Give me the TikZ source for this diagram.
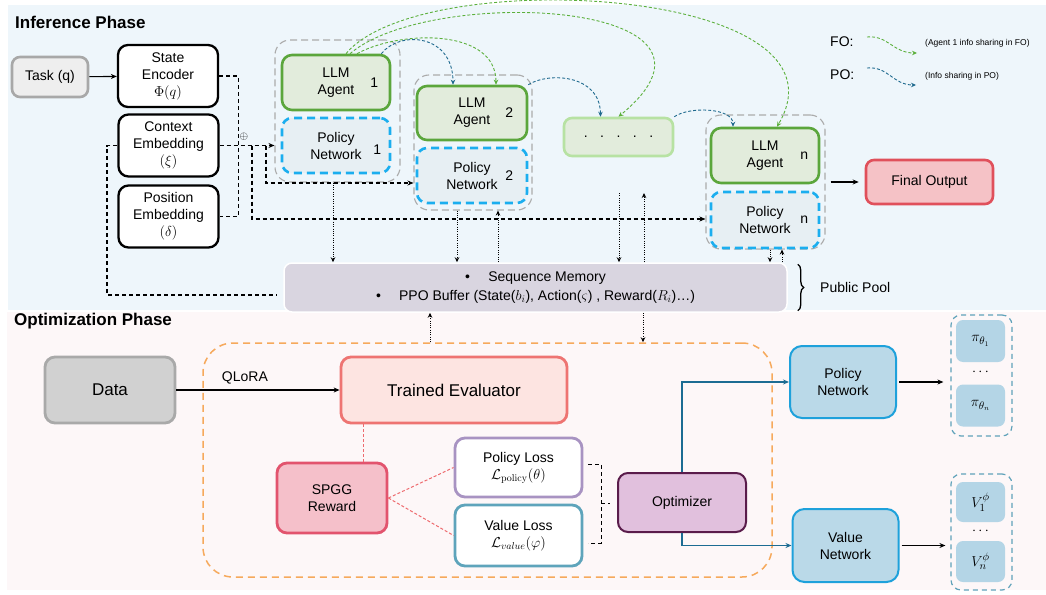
\documentclass[tikz,border=0pt]{standalone}
\usepackage[no-math]{fontspec}
\setmainfont{Liberation Sans}
\usetikzlibrary{arrows.meta,decorations.pathreplacing,calc}

\definecolor{infbg}{HTML}{EEF6FB}
\definecolor{optbg}{HTML}{FDF7F8}
\definecolor{taskfill}{HTML}{EEEEEE}
\definecolor{taskline}{HTML}{A8A8A8}
\definecolor{grpline}{HTML}{ABABAB}
\definecolor{agfill}{HTML}{E2ECDC}
\definecolor{agline}{HTML}{5BA63C}
\definecolor{dotline}{HTML}{B7E2A3}
\definecolor{pnfill}{HTML}{E7EFF3}
\definecolor{pnline}{HTML}{1BAEEF}
\definecolor{outfill}{HTML}{F5C2C6}
\definecolor{outln}{HTML}{E0505B}
\definecolor{poolfill}{HTML}{D9D5E0}
\definecolor{focurve}{HTML}{5CB03C}
\definecolor{pocurve}{HTML}{1F6A8E}
\definecolor{datafill}{HTML}{D1D1D1}
\definecolor{dataline}{HTML}{A9A9A9}
\definecolor{evfill}{HTML}{FDE4E1}
\definecolor{evline}{HTML}{EE7472}
\definecolor{rwfill}{HTML}{F5C0CA}
\definecolor{rwline}{HTML}{E2546E}
\definecolor{plline}{HTML}{A893C2}
\definecolor{vlline}{HTML}{5EA4BB}
\definecolor{optfill}{HTML}{E1C0DD}
\definecolor{optline}{HTML}{5A1C4B}
\definecolor{netfill}{HTML}{BAD9E8}
\definecolor{netline}{HTML}{1EA1DB}
\definecolor{cellfill}{HTML}{B4D5E6}
\definecolor{cellgrp}{HTML}{60A2BA}
\definecolor{flow}{HTML}{1C6C93}
\definecolor{ogrp}{HTML}{F6A95C}
\definecolor{lossdash}{HTML}{EE6B6F}

\begin{document}
\begin{tikzpicture}[x=1pt,y=-1pt,
  every node/.style={font=\fontsize{14}{17}\selectfont},
  box/.style={rounded corners=10pt, align=center, inner sep=0pt},
  enc/.style={box, draw=black, fill=white, line width=2.3pt, minimum width=100pt, minimum height=62pt},
  agent/.style={box, draw=agline, fill=agfill, line width=2.6pt, minimum width=108pt, minimum height=55pt},
  polnet/.style={box, draw=pnline, fill=pnfill, line width=2.6pt, dash pattern=on 8pt off 5pt, minimum width=108pt, minimum height=55pt},
  grp/.style={draw=grpline, line width=1.1pt, dash pattern=on 7pt off 4pt, rounded corners=15pt, inner sep=0pt},
  idx/.style={inner sep=0pt},
  arr/.style={-{Stealth[length=6pt,width=5pt]}},
  dashconn/.style={line width=1.1pt, dash pattern=on 4pt off 3pt},
  dotconn/.style={line width=1pt, dash pattern=on 1pt off 1.3pt, -{Stealth[length=5pt,width=4.5pt]}},
  share/.style={line width=0.9pt, dash pattern=on 3pt off 2pt, -{Stealth[length=5pt,width=4.5pt]}},
  heading/.style={font=\fontsize{17}{20}\selectfont\bfseries, anchor=west, inner sep=0pt},
  optbox/.style={box, line width=2.8pt},
  lossln/.style={draw=lossdash, line width=1pt, dash pattern=on 3pt off 2pt},
  flowln/.style={draw=flow, line width=1.6pt, -{Stealth[length=6pt,width=5pt]}},
  cellgroup/.style={draw=cellgrp, line width=1.2pt, dash pattern=on 5pt off 4pt, rounded corners=10pt, inner sep=0pt},
  cell/.style={fill=cellfill, rounded corners=7pt, minimum width=49pt, inner sep=0pt, font=\fontsize{15}{17}\selectfont}
]
\useasboundingbox (0,0) rectangle (1046,594);

% phase backgrounds
\fill[infbg] (8,5) rectangle (1046,310);
\fill[optbg] (7,312) rectangle (1046,590);
\node[heading] (tinf) at (15,22) {Inference Phase};
\node[heading] (topt) at (14,321) {Optimization Phase};

% ---------------- inference phase ----------------
\node[box, draw=taskline, fill=taskfill, line width=2.6pt, rounded corners=8pt,
      minimum width=76pt, minimum height=40pt] (task) at (50,77) {Task (q)};
\node[enc] (senc) at (168,76) {State\\Encoder\\$\Phi(q)$};
\node[enc] (cenc) at (168.5,145.5) {Context\\Embedding\\$(\xi)$};
\node[enc] (penc) at (168.5,216.5) {Position\\Embedding\\$(\delta)$};

% agent groups
\node[grp, minimum width=125pt, minimum height=142pt] (g1) at (337.5,111) {};
\node[grp, minimum width=118pt, minimum height=135pt] (g2) at (473,142.5) {};
\node[grp, minimum width=119pt, minimum height=134pt] (gn) at (765.5,182) {};

\node[agent] (a1) at (336,82.5) {LLM\\Agent};
\node[idx] (a1n) at ([xshift=-17pt]a1.east) {1};
\node[polnet] (p1) at (336,145.5) {Policy\\Network};
\node[idx] (p1n) at ([xshift=-14pt,yshift=-4pt]p1.east) {1};

\node[agent, minimum width=110pt, minimum height=54pt] (a2) at (472,113) {LLM\\Agent};
\node[idx] (a2n) at ([xshift=-19pt]a2.east) {2};
\node[polnet, minimum width=110pt] (p2) at (472,175.5) {Policy\\Network};
\node[idx] (p2n) at ([xshift=-19pt]p2.east) {2};

\node[box, draw=dotline, fill=agfill, line width=2.6pt, rounded corners=8pt,
      minimum width=109pt, minimum height=38pt] (dots) at (618.5,137)
      {.\hspace{12.5pt}.\hspace{12.5pt}.\hspace{12.5pt}.\hspace{12.5pt}.};

\node[agent] (an) at (765,155.5) {LLM\\Agent};
\node[idx] (ann) at ([xshift=-16pt]an.east) {n};
\node[polnet, minimum height=56pt] (pn) at (765,220) {Policy\\Network};
\node[idx] (pnn) at ([xshift=-16pt]pn.east) {n};

\node[box, draw=outln, fill=outfill, line width=2.6pt, rounded corners=8pt,
      minimum width=127pt, minimum height=44pt] (fout) at (929.5,182) {Final Output};

% public pool
\node[box, fill=poolfill, draw=white, line width=1.5pt, rounded corners=8pt,
      minimum width=503pt, minimum height=49pt, font=\fontsize{14}{19}\selectfont] (pool) at (535.5,287.5)
      {\textbullet\hspace{1.3em}Sequence Memory\\
       \textbullet\hspace{1.3em}PPO Buffer (State($b_i$), Action($\varsigma$) , Reward($R_i$)…)};
\draw[line width=1.3pt, decorate, decoration={brace, amplitude=6pt}]
  ([shift={(10,2)}]pool.north east) -- ([shift={(10,-2)}]pool.south east);
\node[anchor=west, inner sep=0pt] (ppl) at (820,287) {Public Pool};

% legend
\node[anchor=west, inner sep=0pt] (fo) at (830,42) {FO:};
\node[anchor=west, inner sep=0pt] (po) at (830,75) {PO:};
\coordinate (fo1) at (867,37); \coordinate (fo2) at (917,53);
\coordinate (po1) at (867,68); \coordinate (po2) at (916,85);
\draw[share, draw=focurve, color=focurve] (fo1) .. controls (888,35) and (893,53) .. (fo2);
\draw[share, draw=pocurve, color=pocurve] (po1) .. controls (888,66) and (893,85) .. (po2);
\node[anchor=west, inner sep=0pt, font=\fontsize{8.5}{10}\selectfont] (fot) at (925,43) {(Agent 1 info sharing in FO)};
\node[anchor=west, inner sep=0pt, font=\fontsize{8.5}{10}\selectfont] (pot) at (925,76) {(Info sharing in PO)};

% input connectors
\draw[arr, line width=1.1pt] (task) -- (senc);
\draw[dashconn] (senc.east) -- ++(19,0) |- (penc.east);
\node[inner sep=0pt, font=\fontsize{11}{11}\selectfont] (oplus) at (244,137) {$\oplus$};
\draw[dashconn, arr] (cenc.east) -- (cenc.east -| g1.west);
\coordinate (br1) at (266,145.5);
\coordinate (br2) at (252,145.5);
\coordinate (r2) at (266,183);
\coordinate (r3) at (252,219);
\draw[dashconn, arr] (br1) -- (r2) -- (r2 -| g2.west);
\draw[dashconn, arr] (br2) -- (r3) -- (r3 -| gn.west);
\coordinate (lp) at (107,295);
\draw[dashconn, shorten >=6pt] (cenc.west) -| (lp) -- (lp -| pool.west);

% information sharing between agents
\draw[share, draw=pocurve, color=pocurve] ([xshift=-10pt]a1.north east) .. controls (400,30) and (453,34) .. ([xshift=-19pt]a2.north);
\draw[share, draw=focurve, color=focurve] ([xshift=21pt]a1.north) .. controls (400,30) and (496,28) .. ([xshift=24pt]a2.north);
\draw[share, draw=focurve, color=focurve] ([xshift=14pt]a1.north) .. controls (430,-15) and (760,0) .. (dots.north);
\draw[share, draw=focurve, color=focurve] ([xshift=10pt]a1.north) .. controls (420,-36) and (860,-14) .. ([xshift=12pt]an.north);
\draw[share, draw=pocurve, color=pocurve] (a2.north east) .. controls (548,72) and (600,74) .. ([xshift=-18pt]dots.north);
\draw[share, draw=pocurve, color=pocurve] (dots.north east) .. controls (690,106) and (733,108) .. ([xshift=-32pt]an.north);

% output
\draw[arr, line width=1.1pt, shorten <=5pt, shorten >=6pt] (gn.east |- fout.west) -- (fout.west);

% exchange with the public pool
\coordinate (d1) at (333,0);
\coordinate (d2) at (457,0); \coordinate (u2) at (498,0);
\coordinate (d3) at (619,193); \coordinate (u3) at (644,193);
\coordinate (d4) at (770,0); \coordinate (u4) at (782,0);
\draw[dotconn] (d1 |- g1.south) -- (d1 |- pool.north);
\draw[dotconn] (d2 |- g2.south) -- (d2 |- pool.north);
\draw[dotconn] (u2 |- pool.north) -- (u2 |- g2.south);
\draw[dotconn] (d3) -- (d3 |- pool.north);
\draw[dotconn] (u3 |- pool.north) -- (u3);
\draw[dotconn] (d4 |- gn.south) -- (d4 |- pool.north);
\draw[dotconn] (u4 |- pool.north) -- (u4 |- gn.south);

% ---------------- optimization phase ----------------
\node[draw=ogrp, line width=1.5pt, dash pattern=on 7pt off 5pt, rounded corners=30pt,
      minimum width=569pt, minimum height=234pt, inner sep=0pt] (og) at (487.5,460) {};

\node[optbox, draw=dataline, fill=datafill, minimum width=130pt, minimum height=66pt,
      font=\fontsize{17}{20}\selectfont] (data) at (110,390) {Data};
\node[optbox, draw=evline, fill=evfill, minimum width=226pt, minimum height=66pt,
      font=\fontsize{17}{20}\selectfont] (teval) at (454,390) {Trained Evaluator};
\node[optbox, draw=rwline, fill=rwfill, minimum width=110pt, minimum height=70pt] (spgg) at (332,498) {SPGG\\Reward};
\node[optbox, draw=plline, fill=white, minimum width=127pt, minimum height=59pt] (ploss) at (518.5,467.5)
      {Policy Loss\\$\mathcal{L}_{\mathrm{policy}}(\theta)$};
\node[optbox, draw=vlline, fill=white, minimum width=127pt, minimum height=61pt] (vloss) at (518.5,535.5)
      {Value Loss\\$\mathcal{L}_{value}(\varphi)$};
\node[box, draw=optline, fill=optfill, line width=2pt, minimum width=128pt, minimum height=59pt] (opt) at (682,502.5) {Optimizer};
\node[box, draw=netline, fill=netfill, line width=2pt, rounded corners=12pt, minimum width=106pt, minimum height=72pt] (pnet) at (843,382) {Policy\\Network};
\node[box, draw=netline, fill=netfill, line width=2pt, rounded corners=12pt, minimum width=106pt, minimum height=73pt] (vnet) at (845.5,545.5) {Value\\Network};

\node[cellgroup, minimum width=61pt, minimum height=121pt] (pg) at (981.5,375.5) {};
\node[cell, minimum height=42pt] (pi1) at (980.5,341) {$\pi_{\theta_1}$};
\node[inner sep=0pt] (pidots) at (980.5,372) {$\cdots$};
\node[cell, minimum height=42pt] (pin) at (980.5,405.5) {$\pi_{\theta_n}$};
\node[cellgroup, minimum width=61pt, minimum height=116pt] (vg) at (981.5,532) {};
\node[cell, minimum height=40pt] (v1) at (980.5,502) {$V_1^{\phi}$};
\node[inner sep=0pt] (vdots) at (980.5,531) {$\cdots$};
\node[cell, minimum height=41pt] (vn) at (980.5,561.5) {$V_n^{\phi}$};

% optimization connectors
\draw[arr, line width=1.1pt] (data) -- (teval) node[pos=0.42, above=5pt, inner sep=0pt] (qlora) {QLoRA};
\coordinate (tv) at (363,0);
\draw[lossln] (tv |- teval.south) -- (tv |- spgg.north);
\draw[lossln] (spgg.east) -- (ploss.west);
\draw[lossln] (spgg.east) -- (vloss.west);
\coordinate (bk1) at (588,464); \coordinate (bk2) at (601,464);
\coordinate (bk3) at (601,543); \coordinate (bk4) at (588,543);
\coordinate (bk5) at (601,503);
\draw[dashconn, line width=1pt] (bk1) -- (bk2) -- (bk3) -- (bk4);
\draw[dashconn, line width=1pt] (bk5) -- ++(9,0);
\draw[flowln] (opt.north) |- (pnet.west);
\draw[flowln] (opt.south) |- (vnet.west);
\draw[arr, line width=1.3pt, shorten <=2pt, shorten >=7pt] (pnet.east) -- (pnet.east -| pg.west);
\draw[arr, line width=1.3pt, shorten <=2pt, shorten >=5pt] (vnet.east) -- (vnet.east -| vg.west);

\coordinate (o1) at (430,0); \coordinate (o2) at (643,0);
\draw[dotconn] (o1 |- og.north) -- (o1 |- pool.south);
\draw[dotconn] (o2 |- pool.south) -- (o2 |- og.north);
\end{tikzpicture}
\end{document}
